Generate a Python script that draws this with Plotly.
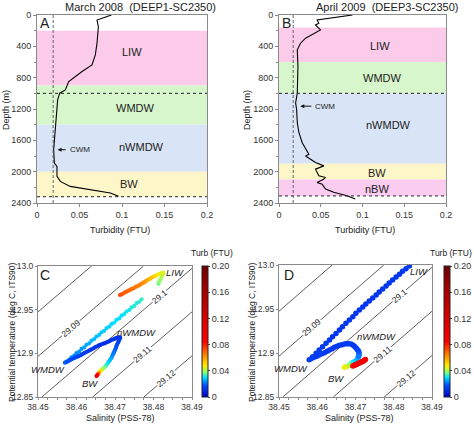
import plotly.graph_objects as go

FONT = "Liberation Sans, Arial, sans-serif"
W, H = 474, 426

# ---------------- Panel A / B : turbidity profiles ----------------
depth_a = [0, 64, 150, 234, 361, 510, 637, 722, 786, 850, 956, 998, 1083, 1296, 1508,
           1720, 1890, 1933, 2060, 2124, 2188, 2230, 2273, 2315]
turb_a = [0.0875, 0.0706, 0.0722, 0.0718, 0.0706, 0.0686, 0.0647, 0.053, 0.0451, 0.0373,
          0.0333, 0.0267, 0.0243, 0.0227, 0.0208, 0.0196, 0.0204, 0.0235, 0.0235, 0.0275,
          0.039, 0.0627, 0.0863, 0.096]

depth_b = [0, 63, 106, 127, 190, 233, 296, 360, 444, 656, 868, 995, 1122, 1206, 1376, 1503,
           1630, 1714, 1778, 1799, 1841, 1884, 1926, 1968, 2053, 2074, 2095, 2137, 2159,
           2222, 2264, 2307, 2349]
turb_b = [0.088, 0.0457, 0.0477, 0.0437, 0.0497, 0.0417, 0.0318, 0.0258, 0.0219, 0.0227,
          0.0219, 0.0219, 0.0199, 0.0211, 0.0219, 0.0239, 0.0278, 0.0318, 0.0358, 0.0318,
          0.0378, 0.0437, 0.0537, 0.0437, 0.0477, 0.0557, 0.0537, 0.0457, 0.0517, 0.0557,
          0.0656, 0.0815, 0.0914]

# water-mass bands (top, bottom, name, label x, label depth)
bands_a_top = [200, 900, 1400, 2000]
bands_a_bot = [900, 1400, 2000, 2320]
bands_a_name = ["LIW", "WMDW", "nWMDW", "BW"]
bands_a_lx = [0.112, 0.1157, 0.1235, 0.108]
bands_a_ly = [467, 1189, 1690, 2158]

bands_b_top = [160, 600, 1000, 1900, 2100]
bands_b_bot = [600, 1000, 1900, 2100, 2310]
bands_b_name = ["LIW", "WMDW", "nWMDW", "BW", "nBW"]
bands_b_lx = [0.1213, 0.1233, 0.1312, 0.1173, 0.1173]
bands_b_ly = [402, 804, 1410, 2011, 2222]

band_colors = {"LIW": "#FCCBEA", "WMDW": "#D8F6CC", "nWMDW": "#D9E5F6",
               "BW": "#FDF6C9", "nBW": "#F9CCF0"}

hlines_a = [1000, 2320]
hlines_b = [1000, 2310]
cwm_turb = [0.019, 0.017]

# ---------------- Panel C / D : T-S diagrams ----------------
sal_c = [
    # orange/yellow LIW branch
    38.4713, 38.4717, 38.4722, 38.4726, 38.4730, 38.4735, 38.4739, 38.4743, 38.4748, 38.4752,
    38.4756, 38.4761, 38.4765, 38.4769, 38.4774, 38.4778, 38.4782, 38.4787, 38.4791, 38.4795,
    38.4800, 38.4804, 38.4808, 38.4813, 38.4817, 38.4821, 38.4826,
    # green tail
    38.4824, 38.4821, 38.4818, 38.4816, 38.4814, 38.4813,
    # cyan diagonal
    38.4769, 38.4763, 38.4756, 38.4750, 38.4743, 38.4737, 38.4730, 38.4724, 38.4717, 38.4711,
    38.4704, 38.4698, 38.4691, 38.4685, 38.4678, 38.4672, 38.4665, 38.4659, 38.4652, 38.4646,
    38.4639, 38.4633, 38.4626, 38.4620, 38.4613, 38.4607, 38.4600, 38.4594, 38.4587, 38.4581,
    38.4574,
    # blue WMDW -> nWMDW
    38.4570, 38.4575, 38.4579, 38.4583, 38.4587, 38.4592, 38.4596, 38.4600, 38.4605, 38.4609,
    38.4613, 38.4618, 38.4622, 38.4627, 38.4631, 38.4635, 38.4639, 38.4644, 38.4648, 38.4652,
    38.4657, 38.4661, 38.4665, 38.4670, 38.4674, 38.4678, 38.4683, 38.4687, 38.4691, 38.4696,
    38.4700, 38.4704, 38.4709, 38.4713,
    # descent nWMDW -> BW
    38.4713, 38.4711, 38.4709, 38.4707, 38.4705, 38.4703, 38.4702, 38.4700, 38.4698, 38.4696,
    38.4694, 38.4692, 38.4690, 38.4687, 38.4684, 38.4681, 38.4678, 38.4675, 38.4672, 38.4668,
    38.4665, 38.4662, 38.4660, 38.4658, 38.4656, 38.4654, 38.4652]
temp_c = [
    12.9668, 12.9676, 12.9687, 12.9698, 12.9706, 12.9718, 12.9725, 12.9737, 12.9744, 12.9756,
    12.9767, 12.9775, 12.9786, 12.9798, 12.9809, 12.9821, 12.9832, 12.9844, 12.9855, 12.9866,
    12.9878, 12.9885, 12.9897, 12.9905, 12.9912, 12.9920, 12.9924,
    12.9901, 12.9878, 12.9847, 12.9832, 12.9817, 12.9794,
    12.9618, 12.9590, 12.9575, 12.9543, 12.9526, 12.9496, 12.9479, 12.9449, 12.9431, 12.9400,
    12.9384, 12.9352, 12.9336, 12.9305, 12.9289, 12.9258, 12.9240, 12.9211, 12.9193, 12.9163,
    12.9145, 12.9115, 12.9098, 12.9068, 12.9050, 12.9020, 12.9002, 12.8973, 12.8955, 12.8925,
    12.8906,
    12.8893, 12.8902, 12.8912, 12.8922, 12.8931, 12.8941, 12.8950, 12.8958, 12.8966, 12.8975,
    12.8985, 12.8997, 12.9008, 12.9018, 12.9027, 12.9036, 12.9046, 12.9057, 12.9069, 12.9078,
    12.9088, 12.9096, 12.9103, 12.9111, 12.9118, 12.9126, 12.9134, 12.9143, 12.9153, 12.9160,
    12.9168, 12.9176, 12.9183, 12.9183,
    12.9172, 12.9153, 12.9134, 12.9115, 12.9095, 12.9076, 12.9057, 12.9038, 12.9019, 12.9000,
    12.8981, 12.8962, 12.8943, 12.8924, 12.8905, 12.8886, 12.8866, 12.8851, 12.8836, 12.8822,
    12.8809, 12.8798, 12.8786, 12.8775, 12.8763, 12.8752, 12.8740]
turb_c = [
    0.074, 0.072, 0.071, 0.070, 0.070, 0.069, 0.068, 0.068, 0.067, 0.066,
    0.066, 0.065, 0.065, 0.064, 0.063, 0.062, 0.060, 0.058, 0.057, 0.055,
    0.053, 0.051, 0.050, 0.048, 0.047, 0.046, 0.045,
    0.044, 0.042, 0.040, 0.039, 0.038, 0.037,
    0.033, 0.033, 0.032, 0.032, 0.032, 0.031, 0.031, 0.031, 0.030, 0.030,
    0.030, 0.030, 0.029, 0.029, 0.029, 0.028, 0.028, 0.028, 0.027, 0.027,
    0.026, 0.026, 0.025, 0.025, 0.024, 0.024, 0.023, 0.023, 0.022, 0.021,
    0.021,
    0.019, 0.018, 0.018, 0.017, 0.017, 0.016, 0.016, 0.015, 0.015, 0.014,
    0.014, 0.014, 0.013, 0.013, 0.013, 0.012, 0.012, 0.012, 0.012, 0.012,
    0.011, 0.011, 0.011, 0.011, 0.011, 0.011, 0.011, 0.011, 0.011, 0.011,
    0.011, 0.011, 0.011, 0.011,
    0.012, 0.013, 0.014, 0.015, 0.016, 0.017, 0.018, 0.019, 0.020, 0.021,
    0.022, 0.023, 0.025, 0.026, 0.028, 0.030, 0.032, 0.034, 0.037, 0.040,
    0.043, 0.047, 0.052, 0.060, 0.072, 0.088, 0.100]

sal_d = [
    # blue LIW -> WMDW
    38.4841, 38.4832, 38.4823, 38.4815, 38.4806, 38.4797, 38.4788, 38.4780, 38.4771, 38.4762,
    38.4754, 38.4745, 38.4736, 38.4727, 38.4719, 38.4710, 38.4701, 38.4693, 38.4684, 38.4675,
    38.4666, 38.4658, 38.4649, 38.4640, 38.4632, 38.4623, 38.4614, 38.4605, 38.4597, 38.4588,
    38.4579,
    # hook WMDW -> nWMDW
    38.4585, 38.4592, 38.4599, 38.4605, 38.4612, 38.4619, 38.4626, 38.4632, 38.4639, 38.4645,
    38.4652, 38.4658, 38.4665, 38.4671, 38.4677, 38.4682, 38.4688, 38.4693, 38.4697, 38.4701,
    38.4704, 38.4707, 38.4709, 38.4709, 38.4709, 38.4707,
    # colored toward BW
    38.4701, 38.4694, 38.4688, 38.4682, 38.4676, 38.4671,
    # red nBW
    38.4693, 38.4696, 38.4698, 38.4701, 38.4703, 38.4706, 38.4708, 38.4711, 38.4714, 38.4717,
    38.4719, 38.4722, 38.4724, 38.4726]
temp_d = [
    12.9989, 12.9958, 12.9928, 12.9894, 12.9864, 12.9830, 12.9795, 12.9761, 12.9727, 12.9693,
    12.9659, 12.9625, 12.9591, 12.9557, 12.9523, 12.9489, 12.9451, 12.9413, 12.9375, 12.9337,
    12.9299, 12.9261, 12.9223, 12.9186, 12.9148, 12.9110, 12.9072, 12.9034, 12.8996, 12.8958,
    12.8924,
    12.8938, 12.8951, 12.8964, 12.8977, 12.8991, 12.9004, 12.9019, 12.9034, 12.9049, 12.9064,
    12.9076, 12.9087, 12.9095, 12.9102, 12.9105, 12.9106, 12.9101, 12.9091, 12.9078, 12.9061,
    12.9044, 12.9027, 12.9008, 12.8989, 12.8970, 12.8951,
    12.8913, 12.8895, 12.8876, 12.8858, 12.8845, 12.8837,
    12.8852, 12.8858, 12.8864, 12.8867, 12.8871, 12.8877, 12.8883, 12.8889, 12.8894, 12.8900,
    12.8905, 12.8912, 12.8920, 12.8926]
turb_d = [
    0.013, 0.013, 0.013, 0.012, 0.012, 0.012, 0.012, 0.012, 0.012, 0.012,
    0.012, 0.012, 0.012, 0.012, 0.012, 0.012, 0.012, 0.012, 0.012, 0.012,
    0.012, 0.012, 0.012, 0.012, 0.012, 0.013, 0.013, 0.013, 0.013, 0.014,
    0.014,
    0.014, 0.014, 0.013, 0.013, 0.013, 0.013, 0.013, 0.013, 0.013, 0.013,
    0.013, 0.013, 0.013, 0.013, 0.013, 0.013, 0.013, 0.013, 0.013, 0.014,
    0.014, 0.015, 0.016, 0.018, 0.020, 0.022,
    0.026, 0.030, 0.034, 0.039, 0.043, 0.047,
    0.085, 0.090, 0.093, 0.095, 0.096, 0.097, 0.098, 0.098, 0.099, 0.099,
    0.100, 0.100, 0.100, 0.100]

# isopycnals (sigma-theta): salinity where each line meets T=12.85 and T=13.0
iso_names = ["29.08", "29.09", "29.1", "29.11", "29.12"]
iso_sal_low = [38.4242, 38.4377, 38.4510, 38.4642, 38.4775]
iso_sal_high = [38.4639, 38.4774, 38.4907, 38.5039, 38.5172]
iso_temp_ends = [12.85, 13.0]
iso_label_temp = [None, 12.929, 12.965, 12.899, 12.872]

ts_labels = ["LIW", "nWMDW", "WMDW", "BW"]
ts_lab_sal_c = [38.4856, 38.4756, 38.4527, 38.4635]
ts_lab_temp_c = [12.9924, 12.9237, 12.8810, 12.8650]
ts_lab_sal_d = [38.4867, 38.4754, 38.4531, 38.4649]
ts_lab_temp_d = [12.9924, 12.9186, 12.8826, 12.8712]

cbar_ticks = [0, 0.04, 0.08, 0.12, 0.16, 0.20]
cbar_text = ["0", "0.04", "0.08", "0.12", "0.16", "0.20"]

turb_scale = [[0, "rgb(0,0,205)"], [0.09, "rgb(0,80,255)"], [0.15, "rgb(0,225,255)"],
              [0.19, "rgb(140,255,110)"], [0.24, "rgb(255,235,0)"], [0.33, "rgb(255,120,0)"],
              [0.42, "rgb(255,0,0)"], [0.62, "rgb(215,0,0)"], [0.85, "rgb(160,0,0)"],
              [1, "rgb(110,0,0)"]]

# ---------------- layout geometry (pixels) ----------------
def dx(p0, p1):
    return [p0 / W, p1 / W]

def dy(top, bot):
    return [1 - bot / H, 1 - top / H]

fig = go.Figure()

GRAY = "#8a8a8a"
TXT = "#333333"
tickfont_p = dict(family=FONT, size=9, color=TXT)
tickfont_t = dict(family=FONT, size=8.5, color=TXT)

# profiles
fig.add_trace(go.Scatter(x=turb_a, y=depth_a, mode="lines", line=dict(color="black", width=1.1),
                         xaxis="x", yaxis="y", showlegend=False, hoverinfo="skip"))
fig.add_trace(go.Scatter(x=turb_b, y=depth_b, mode="lines", line=dict(color="black", width=1.1),
                         xaxis="x2", yaxis="y2", showlegend=False, hoverinfo="skip"))

# isopycnal lines
for xa, ya in (("x3", "y3"), ("x4", "y4")):
    xs, ys = [], []
    for lo, hi in zip(iso_sal_low, iso_sal_high):
        xs += [lo, hi, None]
        ys += [iso_temp_ends[0], iso_temp_ends[1], None]
    fig.add_trace(go.Scatter(x=xs, y=ys, mode="lines", line=dict(color="#333333", width=0.8),
                             xaxis=xa, yaxis=ya, showlegend=False, hoverinfo="skip"))

fig.add_trace(go.Scatter(x=sal_c, y=temp_c, mode="markers",
                         marker=dict(size=4.2, color=turb_c, coloraxis="coloraxis", line=dict(width=0)),
                         xaxis="x3", yaxis="y3", showlegend=False))
fig.add_trace(go.Scatter(x=sal_d, y=temp_d, mode="markers",
                         marker=dict(size=5.5, color=turb_d, coloraxis="coloraxis2", line=dict(width=0)),
                         xaxis="x4", yaxis="y4", showlegend=False))

shapes = []
annotations = []

def add_profile_deco(xr, yr, tops, bots, names, lxs, lys, hl, cwm):
    for t, b, n, lx, ly in zip(tops, bots, names, lxs, lys):
        shapes.append(dict(type="rect", xref=f"{xr} domain", yref=yr, x0=0, x1=1, y0=t, y1=b,
                           fillcolor=band_colors[n], line=dict(width=0), layer="below"))
        annotations.append(dict(x=lx, y=ly, xref=xr, yref=yr, text=n, showarrow=False,
                                font=dict(family=FONT, size=11, color="#222")))
    for h in hl:
        shapes.append(dict(type="line", xref=f"{xr} domain", yref=yr, x0=0, x1=1, y0=h, y1=h,
                           line=dict(color="#222", width=1, dash="dot")))
    shapes.append(dict(type="line", xref=xr, yref=f"{yr} domain", x0=cwm, x1=cwm, y0=0, y1=1,
                       line=dict(color="#555", width=0.9, dash="3px,2px")))

add_profile_deco("x", "y", bands_a_top, bands_a_bot, bands_a_name, bands_a_lx, bands_a_ly, hlines_a, cwm_turb[0])
add_profile_deco("x2", "y2", bands_b_top, bands_b_bot, bands_b_name, bands_b_lx, bands_b_ly, hlines_b, cwm_turb[1])

# CWM arrows
for xr, yr, tip, tail, tx, d in (("x", "y", 0.0243, 0.0355, 0.0505, 1720),
                                 ("x2", "y2", 0.0255, 0.0405, 0.0555, 1164)):
    annotations.append(dict(x=tip, y=d, ax=tail, ay=d, xref=xr, yref=yr, axref=xr, ayref=yr,
                            text="", showarrow=True, arrowhead=2, arrowsize=0.8, arrowwidth=1,
                            arrowcolor="#111"))
    annotations.append(dict(x=tx, y=d, xref=xr, yref=yr, text="CWM", showarrow=False,
                            font=dict(family=FONT, size=8, color="#222")))

# isopycnal labels
for xr, yr in (("x3", "y3"), ("x4", "y4")):
    for name, lo, hi, lt in zip(iso_names, iso_sal_low, iso_sal_high, iso_label_temp):
        if lt is None:
            continue
        frac = (lt - iso_temp_ends[0]) / (iso_temp_ends[1] - iso_temp_ends[0])
        s = lo + frac * (hi - lo)
        annotations.append(dict(x=s, y=lt, xref=xr, yref=yr, text=name, showarrow=False,
                                textangle=-40, bgcolor="white", borderpad=0,
                                font=dict(family=FONT, size=8.5, color="#222")))

for xr, yr, ss, tt in (("x3", "y3", ts_lab_sal_c, ts_lab_temp_c), ("x4", "y4", ts_lab_sal_d, ts_lab_temp_d)):
    for n, s, t in zip(ts_labels, ss, tt):
        annotations.append(dict(x=s, y=t, xref=xr, yref=yr, text=f"<i>{n}</i>", showarrow=False,
                                font=dict(family=FONT, size=9.5, color="#222")))

def paper_text(px, py, text, size, angle=0):
    annotations.append(dict(x=px / W, y=1 - py / H, xref="paper", yref="paper", text=text,
                            showarrow=False, textangle=angle, xanchor="center", yanchor="middle",
                            font=dict(family=FONT, size=size, color="#222")))

paper_text(140, 7, "March 2008  (DEEP1-SC2350)", 11)
paper_text(387, 7, "April 2009  (DEEP3-SC2350)", 11)
paper_text(45, 23, "A", 14)
paper_text(286, 23, "B", 14)
paper_text(45, 275, "C", 14)
paper_text(289, 275, "D", 14)
paper_text(6, 110, "Depth (m)", 9, -90)
paper_text(247, 110, "Depth (m)", 9, -90)
paper_text(120, 230, "Turbidity (FTU)", 9)
paper_text(365, 230, "Turbidity (FTU)", 9)
paper_text(120, 418, "Salinity (PSS-78)", 9)
paper_text(359, 418, "Salinity (PSS-78)", 9)
paper_text(12, 332, "Potential temperature (deg C, ITS90)", 8.5, -90)
paper_text(252, 332, "Potential temperature (deg C, ITS90)", 8.5, -90)
paper_text(212, 253, "Turb (FTU)", 8.5)
paper_text(451, 253, "Turb (FTU)", 8.5)

common = dict(showline=True, linecolor=GRAY, linewidth=1, mirror=True, showgrid=False,
              zeroline=False, automargin=False, tickcolor=GRAY)
prof_x = dict(range=[0, 0.2], tickvals=[0, 0.05, 0.1, 0.15, 0.2],
              ticktext=["0", "0.05", "0.1", "0.15", "0.2"], ticks="outside", ticklen=3,
              tickfont=tickfont_p, **common)
prof_y = dict(range=[2400, 0], tickvals=[0, 400, 800, 1200, 1600, 2000, 2400], ticks="outside",
              ticklen=3, tickfont=tickfont_p,
              minor=dict(dtick=200, ticks="outside", ticklen=2, tickcolor=GRAY, showgrid=False),
              **common)
ts_x = dict(range=[38.45, 38.49], tickvals=[38.45, 38.46, 38.47, 38.48, 38.49],
            ticktext=["38.45", "38.46", "38.47", "38.48", "38.49"], ticks="outside", ticklen=2,
            tickfont=tickfont_t,
            minor=dict(dtick=0.0025, tick0=38.45, ticks="outside", ticklen=2, tickcolor=GRAY, showgrid=False),
            **common)
ts_y = dict(range=[12.85, 13.0], tickvals=[12.85, 12.9, 12.95, 13.0],
            ticktext=["12.85", "12.9", "12.95", "13.0"], ticks="outside", ticklen=2,
            tickfont=tickfont_t, **common)

def cbar(xpx):
    return dict(x=xpx / W, xanchor="left", y=1 - 397 / H, yanchor="bottom", len=131,
                lenmode="pixels", thickness=6, thicknessmode="pixels", xpad=0, ypad=0,
                outlinewidth=1, outlinecolor="#222", tickvals=cbar_ticks, ticktext=cbar_text,
                ticks="outside", ticklen=2, tickcolor="#444",
                tickfont=dict(family=FONT, size=9, color=TXT))

fig.update_layout(
    template="none",
    width=W, height=H, margin=dict(l=0, r=0, t=0, b=0, autoexpand=False),
    paper_bgcolor="white", plot_bgcolor="white", showlegend=False,
    font=dict(family=FONT, color=TXT),
    xaxis=dict(domain=dx(37, 207), anchor="y", **prof_x),
    yaxis=dict(domain=dy(15, 203), anchor="x", **prof_y),
    xaxis2=dict(domain=dx(279, 446), anchor="y2", **prof_x),
    yaxis2=dict(domain=dy(15, 203), anchor="x2", **prof_y),
    xaxis3=dict(domain=dx(38, 192), anchor="y3", **ts_x),
    yaxis3=dict(domain=dy(266, 397), anchor="x3", **ts_y),
    xaxis4=dict(domain=dx(279, 432), anchor="y4", **ts_x),
    yaxis4=dict(domain=dy(265, 397), anchor="x4", **ts_y),
    coloraxis=dict(cmin=0, cmax=0.2, colorscale=turb_scale, colorbar=cbar(202)),
    coloraxis2=dict(cmin=0, cmax=0.2, colorscale=turb_scale, colorbar=cbar(444)),
    shapes=shapes, annotations=annotations,
)

fig.write_html("out.html", config={"displayModeBar": False},
               post_script="document.body.style.margin='0px';document.body.style.padding='0px';")
